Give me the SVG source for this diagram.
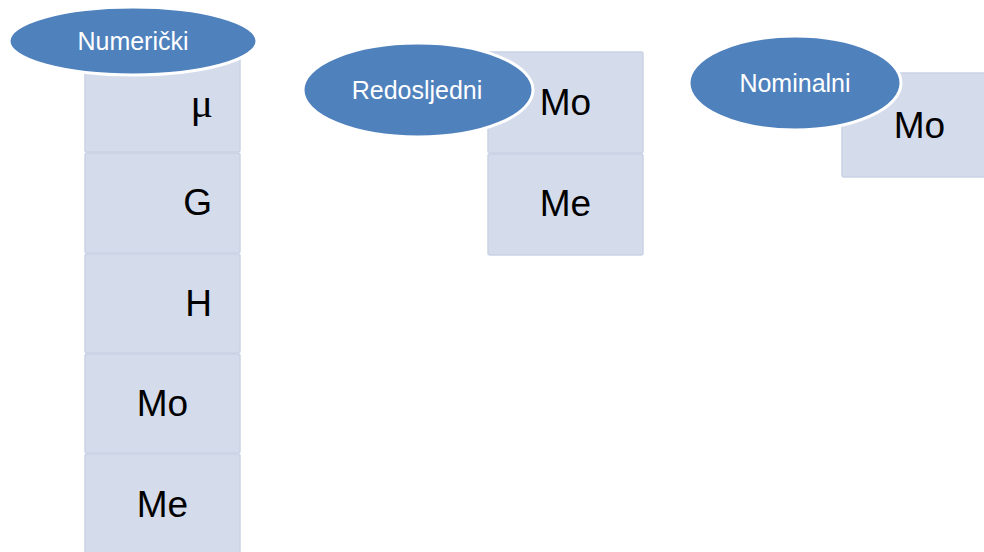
<svg xmlns="http://www.w3.org/2000/svg" width="984" height="552" viewBox="0 0 984 552">
  <style>
    .cell { fill: #D4DBEB; stroke: #C9D2E5; stroke-width: 1.5; }
    .head { fill: #4F81BD; stroke: #FFFFFF; stroke-width: 3; }
    .hl { font-family: "Liberation Sans", Arial, sans-serif; font-size: 25px; fill: #FFFFFF; text-anchor: middle; }
    .v { font-family: "Liberation Sans", Arial, sans-serif; font-size: 37px; fill: #000000; }
    .mid { text-anchor: middle; }
    .end { text-anchor: end; }
    .mu { font-family: "Liberation Serif", "Times New Roman", serif; font-size: 42px; fill: #000000; text-anchor: end; }
  </style>
  <rect width="984" height="552" fill="#FFFFFF"/>

  <g id="numericki-list">
    <rect class="cell" x="85" y="52" width="155" height="100" rx="2"/>
    <rect class="cell" x="85" y="153" width="155" height="100" rx="2"/>
    <rect class="cell" x="85" y="254" width="155" height="99" rx="2"/>
    <rect class="cell" x="85" y="354" width="155" height="99" rx="2"/>
    <rect class="cell" x="85" y="454" width="155" height="102" rx="2"/>
    <text class="mu" x="213" y="117">μ</text>
    <text class="v end" x="212" y="215">G</text>
    <text class="v end" x="212" y="316">H</text>
    <text class="v mid" x="162.5" y="416">Mo</text>
    <text class="v mid" x="162.5" y="517">Me</text>
  </g>

  <g id="redosljedni-list">
    <rect class="cell" x="488" y="52" width="155" height="101" rx="2"/>
    <rect class="cell" x="488" y="154" width="155" height="101" rx="2"/>
    <text class="v mid" x="565.5" y="115">Mo</text>
    <text class="v mid" x="565.5" y="216">Me</text>
  </g>

  <g id="nominalni-list">
    <rect class="cell" x="842" y="73" width="155" height="104" rx="2"/>
    <text class="v mid" x="919.5" y="138">Mo</text>
  </g>

  <g id="connectors"></g>

  <g id="numericki">
    <ellipse class="head" cx="133" cy="41" rx="124" ry="34"/>
    <text class="hl" x="133" y="50">Numerički</text>
  </g>

  <g id="redosljedni">
    <ellipse class="head" cx="418" cy="90" rx="115" ry="47"/>
    <text class="hl" x="417" y="99">Redosljedni</text>
  </g>

  <g id="nominalni">
    <ellipse class="head" cx="795" cy="83" rx="106" ry="47"/>
    <text class="hl" x="795" y="92">Nominalni</text>
  </g>
</svg>
